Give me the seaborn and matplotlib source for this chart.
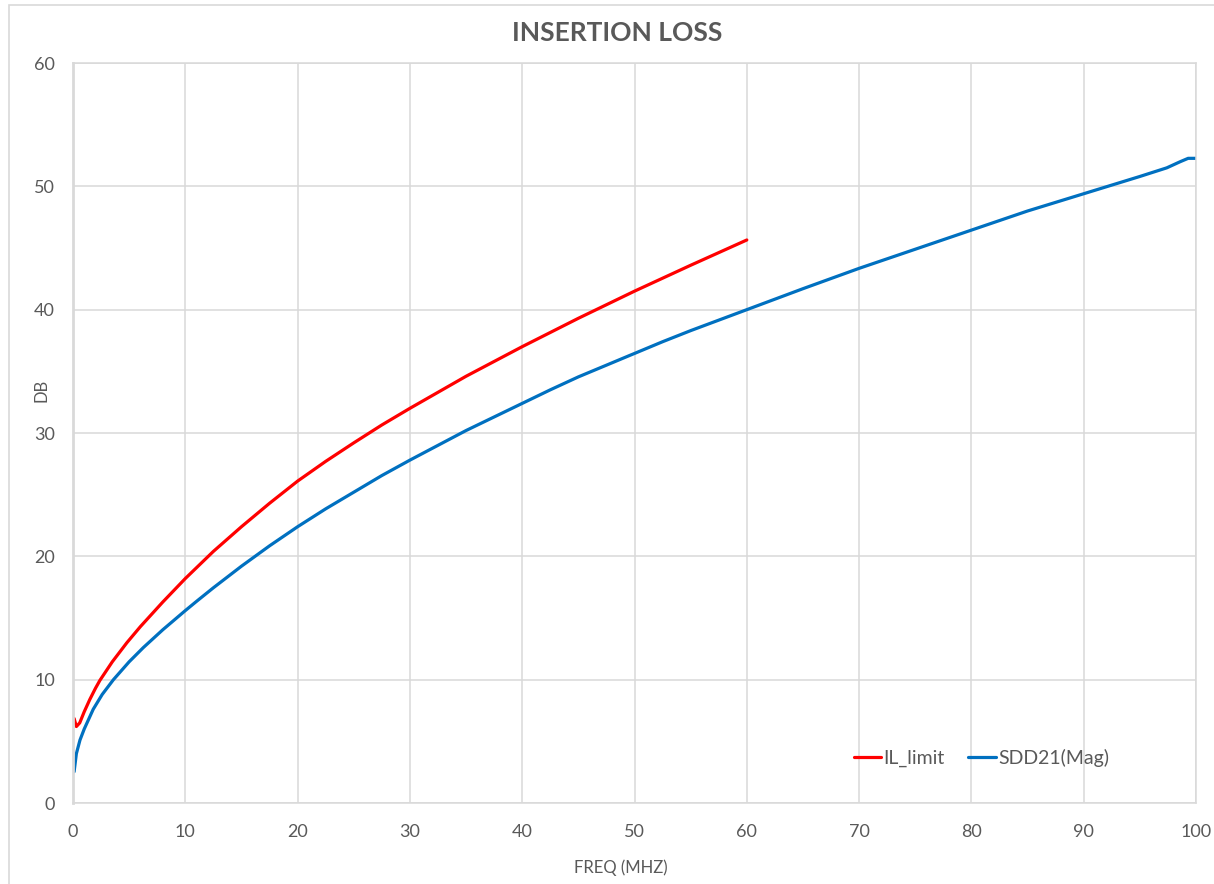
"""
Insertion loss chart: IL_limit vs measured SDD21 magnitude.
"""
import matplotlib

matplotlib.use("Agg")

import matplotlib.pyplot as plt
import pandas as pd
import seaborn as sns
from matplotlib.patches import Rectangle

# ============================================================
# Data
# ============================================================
LIMIT_FREQ = [0.1, 0.3, 0.6, 1, 1.5, 2, 2.4, 3.5, 4.8, 6, 8, 10, 12.5, 15,
              17.5, 20, 22.5, 25, 27.5, 30, 35, 40, 45, 50, 55, 60]
LIMIT_DB = [6.85, 6.2, 6.5, 7.4, 8.4, 9.3, 9.95, 11.45, 13.0, 14.3, 16.3, 18.2,
            20.4, 22.4, 24.3, 26.1, 27.7, 29.2, 30.65, 32.0, 34.6, 37.0, 39.3,
            41.5, 43.6, 45.65]

SDD21_FREQ = [0.1, 0.3, 0.62, 1, 1.8, 2.6, 3.6, 5, 6.26, 8, 10, 11, 12.5, 15,
              17.5, 20, 22.5, 25, 27.5, 30, 32.5, 35, 37.5, 40, 42.5, 45, 47.5,
              49.6, 50, 52.5, 55, 57.5, 60, 65, 70, 75, 80, 85, 90, 95, 97.4,
              98.6, 99.3, 100]
SDD21_DB = [2.54, 4.0, 5.1, 6.0, 7.6, 8.8, 10, 11.45, 12.6, 14.05, 15.6, 16.35,
            17.45, 19.2, 20.85, 22.4, 23.85, 25.2, 26.55, 27.8, 29.0, 30.2,
            31.3, 32.4, 33.5, 34.55, 35.5, 36.3, 36.45, 37.4, 38.3, 39.15, 40.0,
            41.7, 43.35, 44.9, 46.45, 48.0, 49.4, 50.8, 51.5, 52.0, 52.27, 52.27]

SERIES = ["IL_limit", "SDD21(Mag)"]
COLORS = {"IL_limit": "#ff0000", "SDD21(Mag)": "#0070c0"}

X_TICKS = list(range(0, 101, 10))
Y_TICKS = list(range(0, 61, 10))

GRID = "#d9d9d9"
TEXT = "#595959"


def build_frame() -> pd.DataFrame:
    limit = pd.DataFrame({"freq": LIMIT_FREQ, "db": LIMIT_DB, "series": SERIES[0]})
    sdd = pd.DataFrame({"freq": SDD21_FREQ, "db": SDD21_DB, "series": SERIES[1]})
    return pd.concat([limit, sdd], ignore_index=True)


def main() -> None:
    sns.set_theme(style="white")
    plt.rcParams["font.family"] = ["Lato", "DejaVu Sans"]

    df = build_frame()

    fig = plt.figure(figsize=(12.14, 8.84), dpi=100)
    ax = fig.add_axes([73 / 1214, 1 - 803 / 884, 1123 / 1214, 740 / 884])

    sns.lineplot(data=df, x="freq", y="db", hue="series", hue_order=SERIES,
                 palette=COLORS, estimator=None, linewidth=2.3, ax=ax)

    ax.set_xlim(0, 100)
    ax.set_ylim(0, 60)
    ax.set_xticks(X_TICKS)
    ax.set_yticks(Y_TICKS)
    ax.grid(True, color=GRID, linewidth=1.1)
    ax.set_axisbelow(True)
    ax.tick_params(length=0, labelsize=13, colors=TEXT)
    ax.tick_params(axis="x", pad=15)
    ax.tick_params(axis="y", pad=13)
    for name, spine in ax.spines.items():
        spine.set_color(GRID)
        spine.set_linewidth(2 if name == "left" else 1.1)

    ax.set_xlabel("FREQ (MHZ)", fontsize=12, color=TEXT)
    ax.set_ylabel("DB", fontsize=12, color=TEXT)
    ax.xaxis.set_label_coords(0.488, -0.088)
    ax.yaxis.set_label_coords(-0.028, 0.557)
    ax.xaxis.label.set_va("center")
    ax.yaxis.label.set_va("center")

    ax.legend(loc="center", bbox_to_anchor=(0.809, 0.061), ncol=2, frameon=False,
              fontsize=14, handlelength=1.4, handletextpad=0.15,
              columnspacing=1.2, labelcolor=TEXT)

    fig.text(617 / 1214, 1 - 33 / 884, "INSERTION LOSS", ha="center", va="center",
             fontsize=19, fontweight="bold", color=TEXT)

    # light frame around the whole chart area
    fig.patches.append(Rectangle((9 / 1214, -0.1), 1.2, 1.1 - 4.7 / 884,
                                 transform=fig.transFigure, fill=False,
                                 edgecolor=GRID, linewidth=1.2))

    fig.savefig("out.png", dpi=100)
    plt.close(fig)


if __name__ == "__main__":
    main()
